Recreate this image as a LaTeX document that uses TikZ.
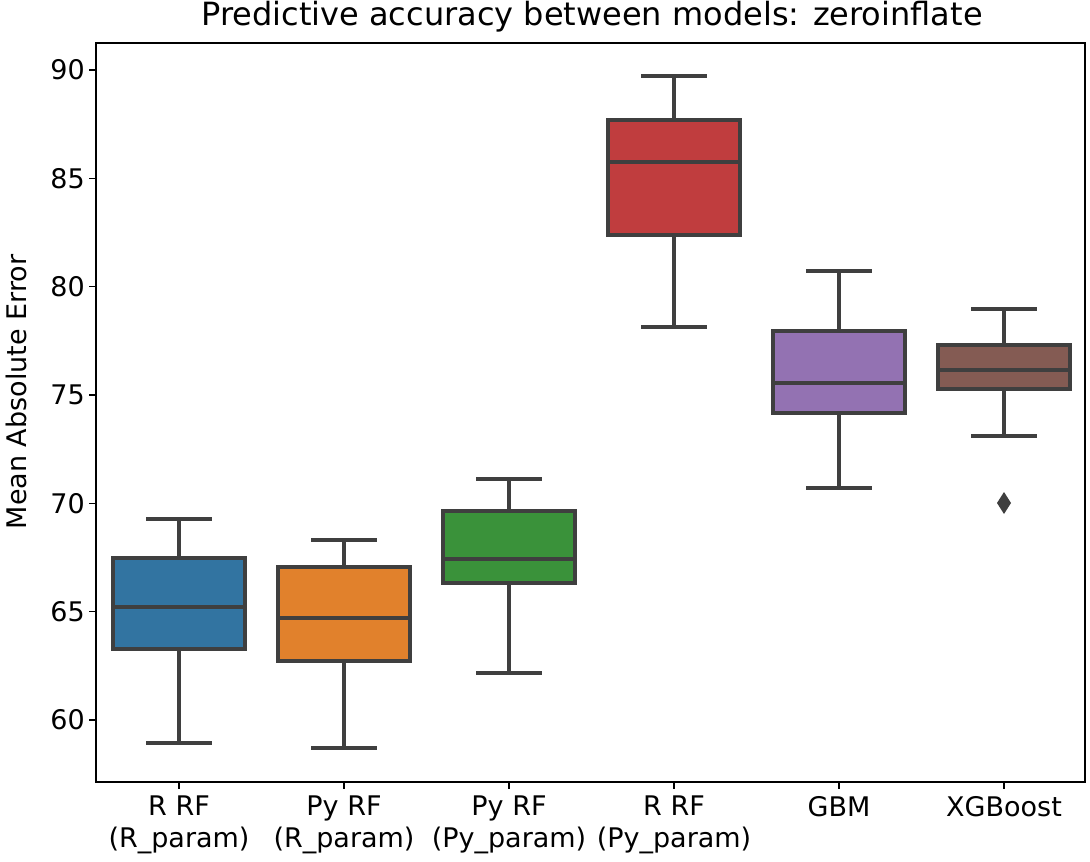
\documentclass[tikz,border=0pt]{standalone}
\usepackage{fontspec}
\setmainfont{DejaVu Sans}
\usetikzlibrary{positioning}
\definecolor{cA}{HTML}{3274A1}
\definecolor{cB}{HTML}{E1812C}
\definecolor{cC}{HTML}{3A923A}
\definecolor{cD}{HTML}{C03D3E}
\definecolor{cE}{HTML}{9372B2}
\definecolor{cF}{HTML}{845B53}
\definecolor{boxline}{HTML}{3F3F3F}
\tikzset{
  bxline/.style={draw=boxline,line width=3.2pt},
  ticklab/.style={font=\fontsize{27}{32}\selectfont,align=center,inner sep=2pt},
}
\begin{document}
\begin{tikzpicture}[x=1pt,y=-1pt]
\useasboundingbox (0,0) rectangle (1090,862);
% boxes: center, colour, whisker top, box top, median, box bottom, whisker bottom
\foreach \cx/\col/\wt/\bt/\md/\bb/\wb in {179/cA/519/558/607/649/743,
    344/cB/540/567/618/661/748, 509/cC/479/511/559/583/673,
    674/cD/76/120/162/235/327, 839/cE/271/331/383/413/488,
    1004/cF/309/345/370/389/436}{
  \draw[bxline] (\cx,\wt) -- (\cx,\bt) (\cx,\bb) -- (\cx,\wb);
  \draw[bxline] (\cx-33,\wt) -- (\cx+33,\wt) (\cx-33,\wb) -- (\cx+33,\wb);
  \draw[bxline,fill=\col] (\cx-66,\bt) rectangle (\cx+66,\bb);
  \draw[bxline] (\cx-66,\md) -- (\cx+66,\md);
}
% outlier
\fill[boxline] (1004,492) -- (1011,503) -- (1004,514) -- (997,503) -- cycle;
% axes
\draw[line width=1.4pt] (96,43) rectangle (1085,782);
\foreach \v in {60,65,...,90}{
  \pgfmathsetmacro\yy{720-(\v-60)*21.67}
  \draw[line width=1.4pt] (96,\yy) -- (89,\yy);
  \node[ticklab,anchor=east] at (87,\yy) {\v};
}
\foreach \cx/\lab in {179/{R RF\\(R\_param)},344/{Py RF\\(R\_param)},
    509/{Py RF\\(Py\_param)},674/{R RF\\(Py\_param)},839/{GBM},1004/{XGBoost}}{
  \draw[line width=1.4pt] (\cx,782) -- (\cx,789);
  \node[ticklab,anchor=north] at (\cx,794) {\lab};
}
\node[ticklab,rotate=90] (ylab) at (16,392) {Mean Absolute Error};
\node[font=\fontsize{32}{38}\selectfont] (title) at (592,17) {Predictive accuracy between models: zeroinflate};
\end{tikzpicture}
\end{document}
